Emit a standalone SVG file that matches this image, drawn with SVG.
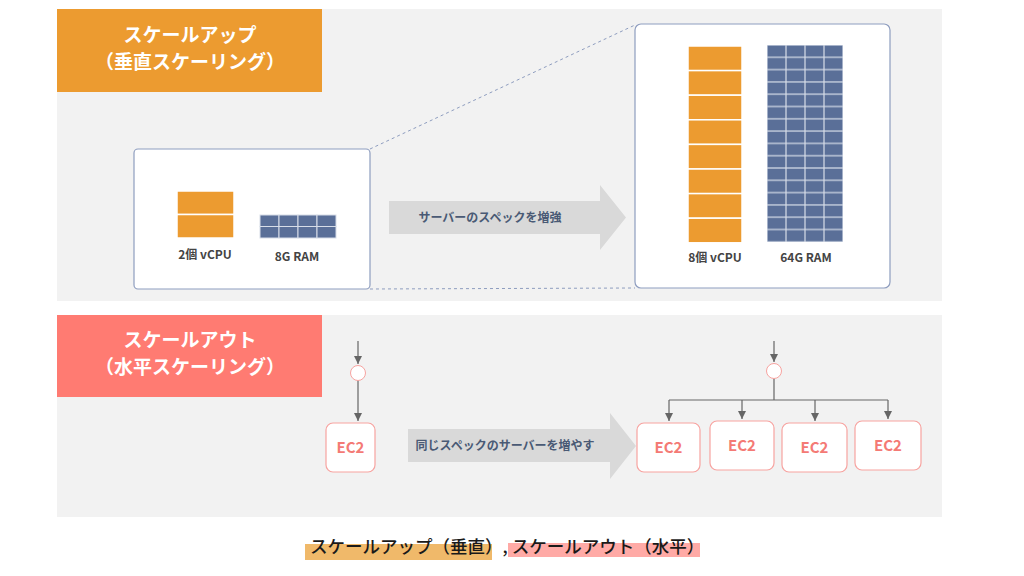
<svg xmlns="http://www.w3.org/2000/svg" width="1024" height="576" viewBox="0 0 1024 576">
<defs>
<style>
text{font-family:"Noto Sans CJK JP","Noto Sans",sans-serif;font-weight:bold}
.panel{fill:#f2f2f2}
.box{fill:#fff;stroke:#8e9dbf;stroke-width:1.2}
.cpu{fill:#ec9b30;stroke:#fff;stroke-width:1.5}
.ram{fill:#5a6f98;stroke:#d7dde8;stroke-width:1}
.lbl{font-size:12px;fill:#444;text-anchor:middle}
.arr{fill:#d9d9d9}
.atxt{font-size:12px;fill:#4a5a75;text-anchor:middle}
.ec2{fill:#fff;stroke:#f7a3a0;stroke-width:1.2}
.ec2t{font-size:15px;fill:#f47a75;text-anchor:middle}
.con{stroke:#666;stroke-width:1.2;fill:none}
.dash{stroke:#8e9dbf;stroke-width:1;stroke-dasharray:3,3;fill:none}
.head{fill:#fff;font-size:19px;text-anchor:middle}
</style>
<marker id="ah" viewBox="0 0 10 10" refX="10" refY="5" markerWidth="7" markerHeight="7" orient="auto"><path d="M0,0L10,5L0,10z" fill="#666"/></marker>
</defs>
<rect width="1024" height="576" fill="#fff"/>
<g id="panel-up">
<rect class="panel" x="57" y="9" width="885" height="292"/>
<rect x="57" y="9" width="265" height="83" fill="#ec9b30"/>
<text class="head" x="190" y="42">スケールアップ</text>
<text class="head" x="190" y="69">（垂直スケーリング）</text>
</g>
<g id="panel-out">
<rect class="panel" x="57" y="315" width="885" height="202"/>
<rect x="57" y="315" width="265" height="82" fill="#ff7b72"/>
<text class="head" x="190" y="347">スケールアウト</text>
<text class="head" x="190" y="374">（水平スケーリング）</text>
</g>
<g id="connectors">
<line class="dash" x1="370" y1="149" x2="635" y2="25"/>
<line class="dash" x1="370" y1="289" x2="635" y2="288"/>
<line class="con" x1="358" y1="341" x2="358" y2="364" marker-end="url(#ah)"/>
<line class="con" x1="358" y1="380" x2="358" y2="421" marker-end="url(#ah)"/>
<line class="con" x1="774" y1="341" x2="774" y2="362" marker-end="url(#ah)"/>
<path class="con" d="M774,378V400M669,400H888"/>
<line class="con" x1="669" y1="400" x2="669" y2="421" marker-end="url(#ah)"/>
<line class="con" x1="742" y1="400" x2="742" y2="419" marker-end="url(#ah)"/>
<line class="con" x1="815" y1="400" x2="815" y2="421" marker-end="url(#ah)"/>
<line class="con" x1="888" y1="400" x2="888" y2="419" marker-end="url(#ah)"/>
</g>
<g id="small-server">
<rect class="box" x="134" y="149" width="236" height="140" rx="4"/>
<rect class="cpu" x="177" y="191" width="57" height="23.5"/>
<rect class="cpu" x="177" y="214.5" width="57" height="23.5"/>
<g class="ram">
<rect x="260" y="215" width="19" height="11.5"/><rect x="279" y="215" width="19" height="11.5"/><rect x="298" y="215" width="19" height="11.5"/><rect x="317" y="215" width="19" height="11.5"/>
<rect x="260" y="226.5" width="19" height="11.5"/><rect x="279" y="226.5" width="19" height="11.5"/><rect x="298" y="226.5" width="19" height="11.5"/><rect x="317" y="226.5" width="19" height="11.5"/>
</g>
<text class="lbl" x="205" y="259">2個 vCPU</text>
<text class="lbl" x="297" y="261">8G RAM</text>
</g>
<g id="arrow-up">
<path class="arr" d="M389,201H600V185L626,217.5L600,250V234H389z"/>
<text class="atxt" x="490" y="222">サーバーのスペックを増強</text>
</g>
<g id="large-server">
<rect class="box" x="635" y="24" width="255" height="264" rx="6"/>
<g class="cpu">
<rect x="688" y="46" width="54" height="24.6"/><rect x="688" y="70.6" width="54" height="24.6"/><rect x="688" y="95.2" width="54" height="24.6"/><rect x="688" y="119.8" width="54" height="24.6"/>
<rect x="688" y="144.4" width="54" height="24.6"/><rect x="688" y="169" width="54" height="24.6"/><rect x="688" y="193.6" width="54" height="24.6"/><rect x="688" y="218.2" width="54" height="24.6"/>
</g>
<g id="ram64">
<defs><pattern id="rp" x="767" y="45" width="19" height="12.3" patternUnits="userSpaceOnUse"><rect width="19" height="12.3" fill="#5a6f98" stroke="#d7dde8" stroke-width="1.2"/></pattern></defs>
<rect x="767" y="45" width="76" height="197" fill="url(#rp)"/>
</g>
<text class="lbl" x="715" y="262">8個 vCPU</text>
<text class="lbl" x="806" y="262">64G RAM</text>
</g>
<g id="lb-left"><circle cx="358" cy="373" r="7.5" fill="#fff" stroke="#f7a3a0"/></g>
<g id="ec2-left"><rect class="ec2" x="326" y="423" width="49" height="49" rx="7"/><text class="ec2t" x="350.5" y="453">EC2</text></g>
<g id="arrow-out">
<path class="arr" d="M408,429H610V413L636,446L610,479V462H408z"/>
<text class="atxt" x="505" y="450">同じスペックのサーバーを増やす</text>
</g>
<g id="lb-right"><circle cx="774" cy="371" r="7.5" fill="#fff" stroke="#f7a3a0"/></g>
<g id="ec2-1"><rect class="ec2" x="637" y="423" width="63" height="49" rx="7"/><text class="ec2t" x="668.5" y="453">EC2</text></g>
<g id="ec2-2"><rect class="ec2" x="710" y="421" width="64" height="49" rx="7"/><text class="ec2t" x="742" y="451">EC2</text></g>
<g id="ec2-3"><rect class="ec2" x="782" y="423" width="65" height="49" rx="7"/><text class="ec2t" x="814.5" y="453">EC2</text></g>
<g id="ec2-4"><rect class="ec2" x="855" y="421" width="66" height="49" rx="7"/><text class="ec2t" x="888" y="451">EC2</text></g>
<g id="caption">
<rect x="305" y="544" width="187" height="16" fill="#f0b96a"/>
<rect x="508" y="543" width="192" height="14" fill="#ffaaa6"/>
<text x="310" y="553" font-size="17.5" fill="#1a1a1a" style="font-weight:500">スケールアップ（垂直）, スケールアウト（水平）</text>
</g>
</svg>
